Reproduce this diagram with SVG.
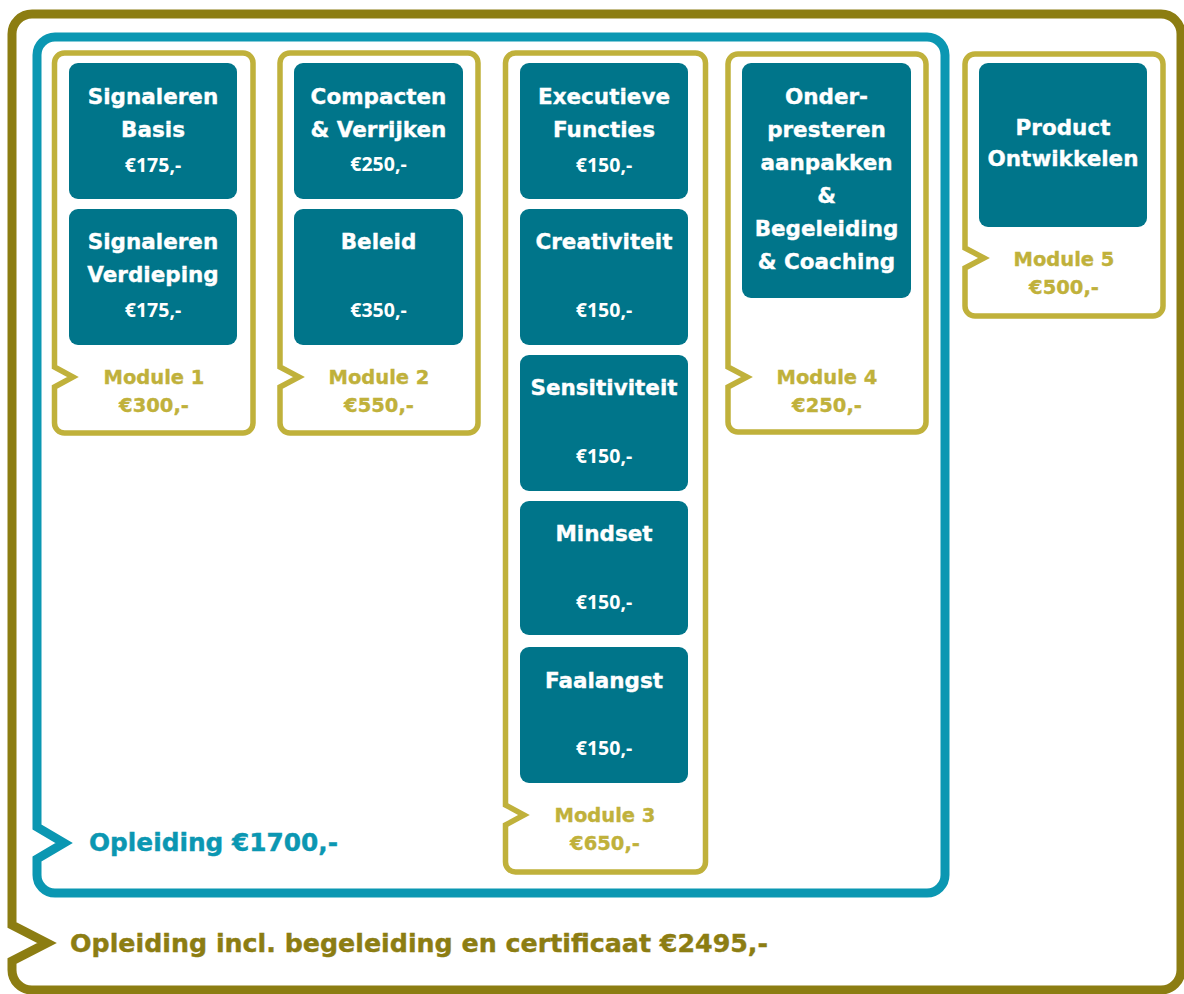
<svg xmlns="http://www.w3.org/2000/svg" width="1184" height="994" viewBox="0 0 1184 994">
<style>
.olive{fill:none;stroke:#8C7D12;stroke-width:9;stroke-linejoin:miter}
.teal{fill:none;stroke:#0B97B2;stroke-width:9;stroke-linejoin:miter}
.gold{fill:none;stroke:#C0B13B;stroke-width:5.5;stroke-linejoin:miter}
.box{fill:#00758A}
.t{font-family:"DejaVu Sans",sans-serif;font-weight:bold;font-size:21.5px;fill:#ffffff;stroke:#ffffff;stroke-width:0.35px;text-anchor:middle}
.p{font-family:"Open Sans","Liberation Sans",sans-serif;font-weight:bold;font-size:19.5px;fill:#ffffff;text-anchor:middle}
.m{font-family:"DejaVu Sans",sans-serif;font-weight:bold;font-size:19.5px;fill:#C0B13B;stroke:#C0B13B;stroke-width:0.35px;text-anchor:middle}
.big{font-family:"DejaVu Sans",sans-serif;font-weight:bold;font-size:25px;stroke-width:0.4px}
</style>
<rect width="1184" height="994" fill="#ffffff"/>
<g id="frames">
<path id="outer" class="olive" d="M32,14 H1161 A20,20 0 0 1 1181,34 V970 A20,20 0 0 1 1161,990 H32 A20,20 0 0 1 12,970 V961 L47,943 L12,925 V34 A20,20 0 0 1 32,14 Z"/>
<text class="big" x="70" y="952" fill="#8C7D12" stroke="#8C7D12" textLength="698" lengthAdjust="spacingAndGlyphs">Opleiding incl. begeleiding en certificaat €2495,-</text>
<path id="opleiding" class="teal" d="M55,37 H927 A18,18 0 0 1 945,55 V875 A18,18 0 0 1 927,893 H55 A18,18 0 0 1 37,875 V859 L64,843 L37,827 V55 A18,18 0 0 1 55,37 Z"/>
<text class="big" x="89" y="851" fill="#0B97B2" stroke="#0B97B2" textLength="249" lengthAdjust="spacingAndGlyphs">Opleiding €1700,-</text>
</g>
<g id="module1">
<path class="gold" d="M64.5,53 H243 A10,10 0 0 1 253,63 V423 A10,10 0 0 1 243,433 H64.5 A10,10 0 0 1 54.5,423 V387 L73,377 L54.5,367 V63 A10,10 0 0 1 64.5,53 Z"/>
<rect class="box" x="69" y="63" width="168" height="136" rx="9"/>
<text class="t" x="153" y="104">Signaleren</text><text class="t" x="153" y="137">Basis</text><text class="p" x="153" y="172">€175,-</text>
<rect class="box" x="69" y="209" width="168" height="136" rx="9"/>
<text class="t" x="153" y="249">Signaleren</text><text class="t" x="153" y="282">Verdieping</text><text class="p" x="153" y="317">€175,-</text>
<text class="m" x="154" y="384">Module 1</text><text class="m" x="154" y="412">€300,-</text>
</g>
<g id="module2">
<path class="gold" d="M290,53 H468 A10,10 0 0 1 478,63 V423 A10,10 0 0 1 468,433 H290 A10,10 0 0 1 280,423 V387 L299,377 L280,367 V63 A10,10 0 0 1 290,53 Z"/>
<rect class="box" x="294" y="63" width="169" height="136" rx="9"/>
<text class="t" x="378.5" y="104">Compacten</text><text class="t" x="378.5" y="137">&amp; Verrijken</text><text class="p" x="378.5" y="171">€250,-</text>
<rect class="box" x="294" y="209" width="169" height="136" rx="9"/>
<text class="t" x="378.5" y="249">Beleid</text><text class="p" x="378.5" y="317">€350,-</text>
<text class="m" x="379" y="384">Module 2</text><text class="m" x="379" y="412">€550,-</text>
</g>
<g id="module3">
<path class="gold" d="M515.5,53 H695.5 A10,10 0 0 1 705.5,63 V862 A10,10 0 0 1 695.5,872 H515.5 A10,10 0 0 1 505.5,862 V825 L524,815 L505.5,805 V63 A10,10 0 0 1 515.5,53 Z"/>
<rect class="box" x="520" y="63" width="168" height="136" rx="9"/>
<text class="t" x="604" y="104">Executieve</text><text class="t" x="604" y="137">Functies</text><text class="p" x="604" y="172">€150,-</text>
<rect class="box" x="520" y="209" width="168" height="136" rx="9"/>
<text class="t" x="604" y="249">Creativiteit</text><text class="p" x="604" y="317">€150,-</text>
<rect class="box" x="520" y="355" width="168" height="136" rx="9"/>
<text class="t" x="604" y="395">Sensitiviteit</text><text class="p" x="604" y="463">€150,-</text>
<rect class="box" x="520" y="501" width="168" height="134" rx="9"/>
<text class="t" x="604" y="541">Mindset</text><text class="p" x="604" y="609">€150,-</text>
<rect class="box" x="520" y="647" width="168" height="136" rx="9"/>
<text class="t" x="604" y="688">Faalangst</text><text class="p" x="604" y="755">€150,-</text>
<text class="m" x="605" y="822">Module 3</text><text class="m" x="605" y="850">€650,-</text>
</g>
<g id="module4">
<path class="gold" d="M738,54 H916 A10,10 0 0 1 926,64 V422 A10,10 0 0 1 916,432 H738 A10,10 0 0 1 728,422 V387 L747,377 L728,367 V64 A10,10 0 0 1 738,54 Z"/>
<rect class="box" x="742" y="63" width="169" height="235" rx="9"/>
<text class="t" x="826.5" y="104">Onder-</text><text class="t" x="826.5" y="137">presteren</text><text class="t" x="826.5" y="170">aanpakken</text><text class="t" x="826.5" y="203">&amp;</text><text class="t" x="826.5" y="236">Begeleiding</text><text class="t" x="826.5" y="269">&amp; Coaching</text>
<text class="m" x="827" y="384">Module 4</text><text class="m" x="827" y="412">€250,-</text>
</g>
<g id="module5">
<path class="gold" d="M975,54 H1153 A10,10 0 0 1 1163,64 V306 A10,10 0 0 1 1153,316 H975 A10,10 0 0 1 965,306 V268 L984,258 L965,248 V64 A10,10 0 0 1 975,54 Z"/>
<rect class="box" x="979" y="63" width="168" height="164" rx="9"/>
<text class="t" x="1063" y="135">Product</text><text class="t" x="1063" y="166">Ontwikkelen</text>
<text class="m" x="1064" y="266">Module 5</text><text class="m" x="1064" y="294">€500,-</text>
</g>
</svg>
